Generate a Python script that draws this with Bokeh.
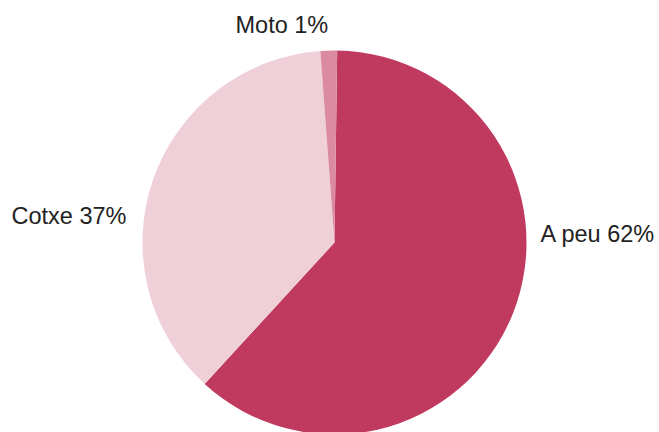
import math
from bokeh.plotting import figure
from bokeh.models import Range1d, ColumnDataSource
from bokeh.core.properties import value
from bokeh.embed import file_html
from bokeh.resources import INLINE

categories = ["A peu", "Cotxe", "Moto"]
shares = [61.6, 37.0, 1.4]
labels = ["A peu 62%", "Cotxe 37%", "Moto 1%"]
colors = ["#C0395E", "#EFCFD8", "#DB8AA2"]

W, H = 659, 432
cx, cy, r = 334, H - 242, 192
start_offset_deg = 0.8  # clockwise from 12 o'clock

total = sum(shares)
starts, ends = [], []
acc = start_offset_deg
for s in shares:
    a0 = math.radians(90 - acc)
    acc += s / total * 360
    a1 = math.radians(90 - acc)
    starts.append(a0)
    ends.append(a1)

src = ColumnDataSource(dict(cat=categories, start=starts, end=ends, color=colors))

p = figure(width=W, height=H, output_backend="svg", toolbar_location=None,
           x_range=Range1d(0, W), y_range=Range1d(0, H), min_border=0)
p.axis.visible = False
p.grid.visible = False
p.outline_line_color = None
p.background_fill_color = "white"

p.wedge(x=cx, y=cy, radius=r, start_angle="start", end_angle="end",
        direction="clock", fill_color="color", line_color=None, source=src)

lx = [540, 11, 235]
ly = [H - 233, H - 215, H - 24]
tsrc = ColumnDataSource(dict(x=lx, y=ly, t=labels))
p.text(x="x", y="y", text="t", source=tsrc, text_font=value("Liberation Sans"),
       text_font_size="23.5px", text_color="#222222", text_baseline="middle",
       text_align="left")

open("out.html", "w").write(file_html(p, INLINE))
